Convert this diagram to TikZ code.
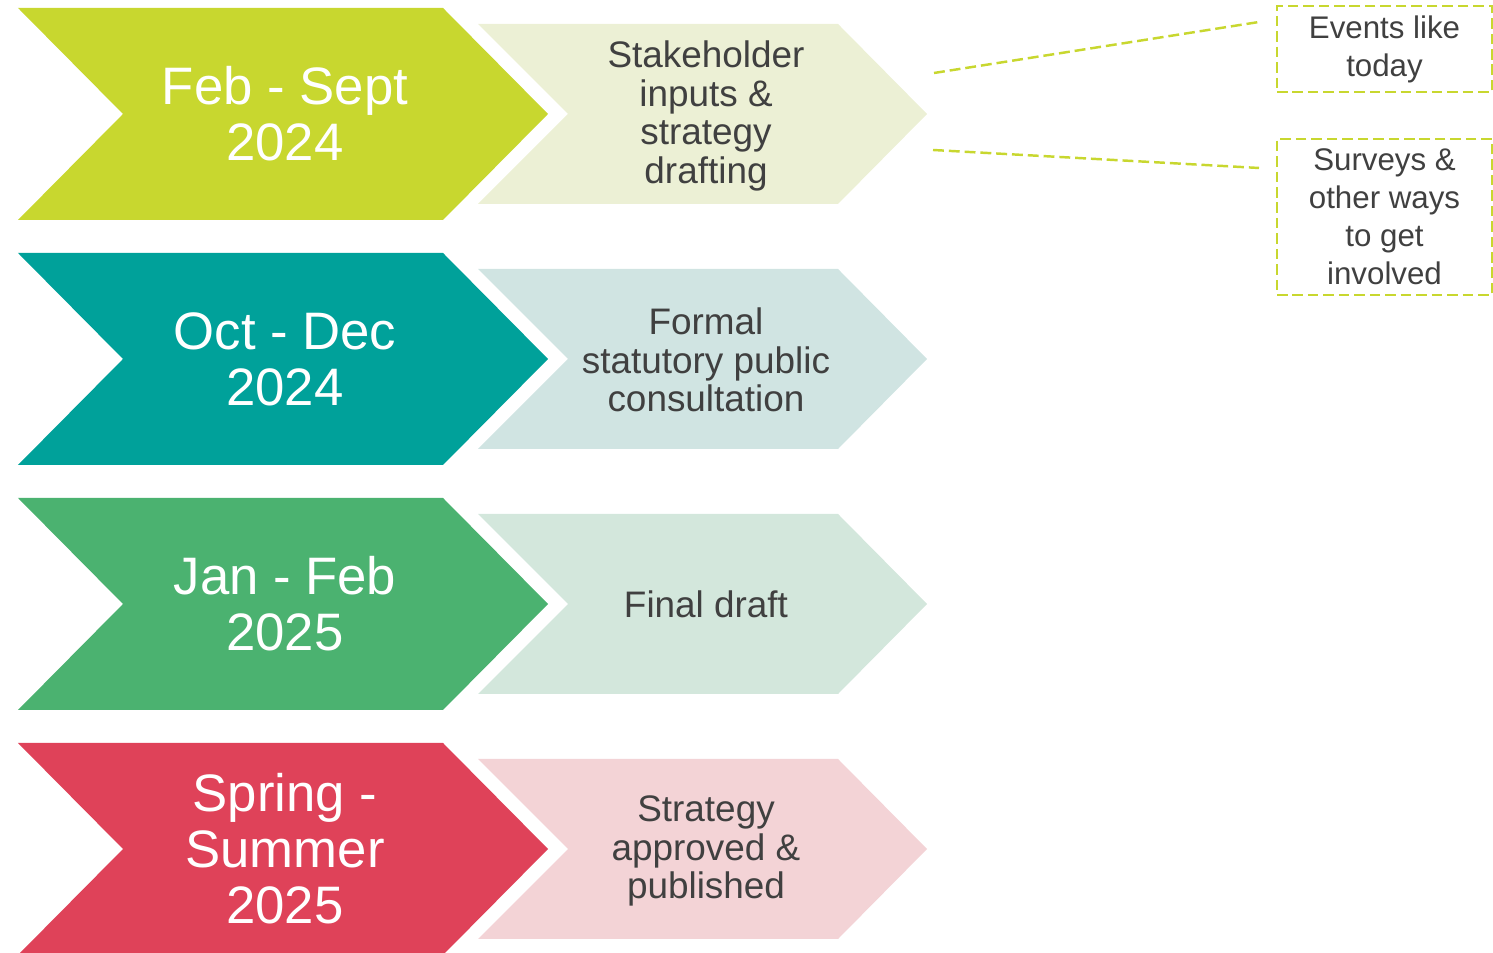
\documentclass[tikz,border=0pt]{standalone}
\usepackage{fontspec}
\setmainfont{Liberation Sans}
\usepackage{xcolor}
\usetikzlibrary{positioning,calc}

\definecolor{limeDark}{HTML}{C8D72F}
\definecolor{limeLight}{HTML}{ECF0D5}
\definecolor{tealDark}{HTML}{00A19A}
\definecolor{tealLight}{HTML}{D0E4E2}
\definecolor{greenDark}{HTML}{4BB270}
\definecolor{greenLight}{HTML}{D3E7DC}
\definecolor{redDark}{HTML}{DF4259}
\definecolor{redLight}{HTML}{F3D3D6}
\definecolor{textGray}{HTML}{404040}

\begin{document}
\begin{tikzpicture}[
    whenlabel/.style={text=white, align=center, font=\fontsize{15}{15.9}\selectfont},
    whatlabel/.style={text=textGray, align=center, font=\fontsize{10.5}{10.95}\selectfont},
    notebox/.style={draw=limeDark, dashed, line width=0.6pt, dash pattern=on 3pt off 1.4pt, inner sep=0pt,
        text=textGray, align=center, font=\fontsize{8.9}{10.8}\selectfont},
    noteline/.style={limeDark, line width=0.7pt, dash pattern=on 3.1pt off 1.4pt}
]

% Page
\clip (0,0) rectangle (14.93,9.53);

% Row 1: Feb - Sept 2024
\begin{scope}[yshift=0cm]
    \fill[limeDark] (0.18,9.45) -- (4.43,9.45) -- (5.48,8.39) -- (4.43,7.33) -- (0.18,7.33) -- (1.23,8.39) -- cycle;
    \fill[limeLight] (4.78,9.29) -- (8.38,9.29) -- (9.27,8.39) -- (8.38,7.49) -- (4.78,7.49) -- (5.68,8.39) -- cycle;
    \node[whenlabel] (feb) at (2.85,8.39) {Feb - Sept\\2024};
    \node[whatlabel] (drafting) at (7.06,8.37) {Stakeholder\\inputs \&\\strategy\\drafting};
\end{scope}

% Row 2: Oct - Dec 2024
\begin{scope}[yshift=-2.45cm]
    \fill[tealDark] (0.18,9.45) -- (4.43,9.45) -- (5.48,8.39) -- (4.43,7.33) -- (0.18,7.33) -- (1.23,8.39) -- cycle;
    \fill[tealLight] (4.78,9.29) -- (8.38,9.29) -- (9.27,8.39) -- (8.38,7.49) -- (4.78,7.49) -- (5.68,8.39) -- cycle;
    \node[whenlabel] (oct) at (2.85,8.39) {Oct - Dec\\2024};
    \node[whatlabel] (consult) at (7.06,8.38) {Formal\\statutory public\\consultation};
\end{scope}

% Row 3: Jan - Feb 2025
\begin{scope}[yshift=-4.90cm]
    \fill[greenDark] (0.18,9.45) -- (4.43,9.45) -- (5.48,8.39) -- (4.43,7.33) -- (0.18,7.33) -- (1.23,8.39) -- cycle;
    \fill[greenLight] (4.78,9.29) -- (8.38,9.29) -- (9.27,8.39) -- (8.38,7.49) -- (4.78,7.49) -- (5.68,8.39) -- cycle;
    \node[whenlabel] (jan) at (2.85,8.39) {Jan - Feb\\2025};
    \node[whatlabel] (final) at (7.06,8.39) {Final draft};
\end{scope}

% Row 4: Spring - Summer 2025
\begin{scope}[yshift=-7.35cm]
    \fill[redDark] (0.18,9.45) -- (4.43,9.45) -- (5.48,8.39) -- (4.43,7.33) -- (0.18,7.33) -- (1.23,8.39) -- cycle;
    \fill[redLight] (4.78,9.29) -- (8.38,9.29) -- (9.27,8.39) -- (8.38,7.49) -- (4.78,7.49) -- (5.68,8.39) -- cycle;
    \node[whenlabel] (spring) at (2.85,8.39) {Spring -\\Summer\\2025};
    \node[whatlabel] (publish) at (7.06,8.37) {Strategy\\approved \&\\published};
\end{scope}

% Notes
\node[notebox, minimum width=2.15cm, minimum height=0.86cm] (events) at (13.845,9.04) {Events like\\today};
\node[notebox, minimum width=2.15cm, minimum height=1.56cm] (surveys) at (13.845,7.36) {Surveys \&\\other ways\\to get\\involved};

% Dashed leaders
\coordinate (eventsFrom) at (9.34,8.80);
\coordinate (eventsTo) at (12.59,9.31);
\coordinate (surveysFrom) at (9.33,8.03);
\coordinate (surveysTo) at (12.59,7.85);
\draw[noteline] (eventsFrom) -- (eventsTo);
\draw[noteline] (surveysFrom) -- (surveysTo);

\end{tikzpicture}
\end{document}
